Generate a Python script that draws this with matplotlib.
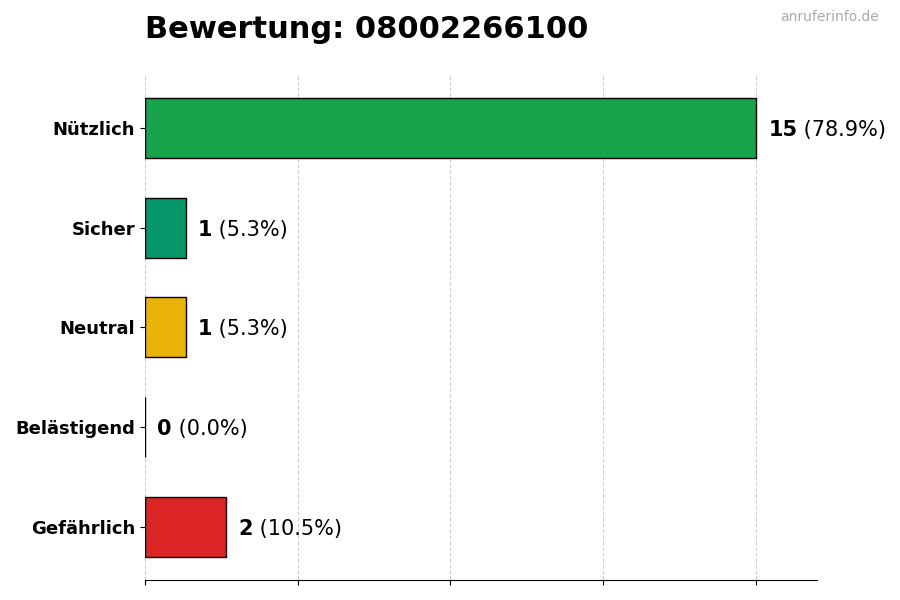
import matplotlib
matplotlib.use("Agg")
import matplotlib.pyplot as plt
import numpy as np

categories = ["Nützlich", "Sicher", "Neutral", "Belästigend", "Gefährlich"]
counts = [15, 1, 1, 0, 2]
colors = ["#16a34a", "#059669", "#eab308", "#f97316", "#dc2626"]
title = "Bewertung: 08002266100"
watermark = "anruferinfo.de"

total = sum(counts)
fig = plt.figure(figsize=(9, 6), dpi=100)
ax = fig.add_axes([0.161, 0.0333, 0.747, 0.842])

y = np.arange(len(categories))
ax.barh(y, counts, height=0.6, color=colors, edgecolor="black", linewidth=1, zorder=2)
ax.invert_yaxis()
ax.set_yticks(y)
ax.set_yticklabels(categories, fontsize=13, fontweight="bold")
maxv = max(counts)
ax.set_xlim(0, maxv * 1.1)
ax.set_xticks(np.linspace(0, maxv, 5))
ax.set_xticklabels([])
ax.grid(axis="x", linestyle="--", color="#d0d0d0", linewidth=0.8, zorder=0)
ax.set_axisbelow(True)
for s in ["top", "right", "left"]:
    ax.spines[s].set_visible(False)

fig.canvas.draw()
r = fig.canvas.get_renderer()
for i, c in enumerate(counts):
    pct = c / total * 100
    t1 = ax.text(c + maxv * 0.02, i, f"{c}", fontsize=15, fontweight="bold",
                 va="center_baseline", ha="left")
    bb = t1.get_window_extent(renderer=r)
    x_data = ax.transData.inverted().transform((bb.x1, 0))[0]
    ax.text(x_data, i, f" ({pct:.1f}%)", fontsize=15, va="center_baseline", ha="left")

fig.text(0.161, 0.95, title, fontsize=22, fontweight="bold", ha="left", va="center")
fig.text(0.976, 0.972, watermark, fontsize=10, color="#aaaaaa", ha="right", va="center")

fig.savefig("out.png", dpi=100)
